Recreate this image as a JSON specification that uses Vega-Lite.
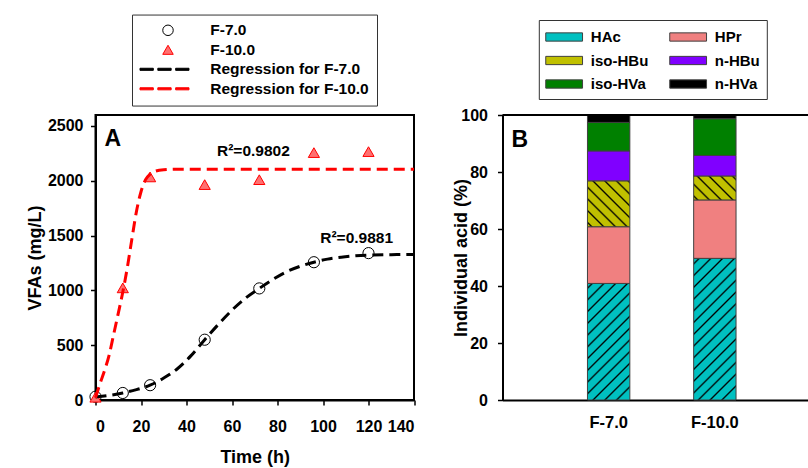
{
  "$schema": "https://vega.github.io/schema/vega-lite/v6.json",
  "autosize": "none",
  "padding": {"left": 95.5, "top": 115, "right": 712.5, "bottom": 353},
  "background": "white",
  "config": {
    "font": "Liberation Sans",
    "view": {"stroke": "black", "strokeWidth": 2},
    "axis": {"grid": false, "domainColor": "black", "domainWidth": 2, "tickColor": "black", "tickWidth": 1.5, "tickSize": 5,
      "labelFont": "Liberation Sans", "labelFontWeight": "bold", "labelFontSize": 16, "labelColor": "black",
      "titleFont": "Liberation Sans", "titleFontWeight": "bold", "titleFontSize": 18, "titleColor": "black"},
    "legend": {"labelFont": "Liberation Sans", "labelFontWeight": "bold", "labelColor": "black", "strokeColor": "#333333", "fillColor": "white"},
    "title": {"font": "Liberation Sans", "fontWeight": "bold", "fontSize": 23, "color": "black", "anchor": "start", "frame": "group", "baseline": "top", "dx": 9, "offset": -11}
  },
  "datasets": {
    "points": [
      {"series": "F-7.0", "t": 0, "v": 30}, {"series": "F-7.0", "t": 12, "v": 64}, {"series": "F-7.0", "t": 24, "v": 135},
      {"series": "F-7.0", "t": 48, "v": 550}, {"series": "F-7.0", "t": 72, "v": 1018}, {"series": "F-7.0", "t": 96, "v": 1257},
      {"series": "F-7.0", "t": 120, "v": 1340},
      {"series": "F-10.0", "t": 0, "v": 25}, {"series": "F-10.0", "t": 12, "v": 1023}, {"series": "F-10.0", "t": 24, "v": 2035},
      {"series": "F-10.0", "t": 48, "v": 1965}, {"series": "F-10.0", "t": 72, "v": 2010}, {"series": "F-10.0", "t": 96, "v": 2257},
      {"series": "F-10.0", "t": 120, "v": 2266}
    ],
    "curves": [
      {"series": "Regression for F-7.0", "t": 0, "v": 28}, {"series": "Regression for F-7.0", "t": 6, "v": 42},
      {"series": "Regression for F-7.0", "t": 12, "v": 64}, {"series": "Regression for F-7.0", "t": 18, "v": 95},
      {"series": "Regression for F-7.0", "t": 24, "v": 135}, {"series": "Regression for F-7.0", "t": 30, "v": 200},
      {"series": "Regression for F-7.0", "t": 36, "v": 285}, {"series": "Regression for F-7.0", "t": 42, "v": 405},
      {"series": "Regression for F-7.0", "t": 48, "v": 550}, {"series": "Regression for F-7.0", "t": 54, "v": 690},
      {"series": "Regression for F-7.0", "t": 60, "v": 820}, {"series": "Regression for F-7.0", "t": 66, "v": 930},
      {"series": "Regression for F-7.0", "t": 72, "v": 1018}, {"series": "Regression for F-7.0", "t": 78, "v": 1100},
      {"series": "Regression for F-7.0", "t": 84, "v": 1170}, {"series": "Regression for F-7.0", "t": 90, "v": 1220},
      {"series": "Regression for F-7.0", "t": 96, "v": 1257}, {"series": "Regression for F-7.0", "t": 102, "v": 1285},
      {"series": "Regression for F-7.0", "t": 108, "v": 1303}, {"series": "Regression for F-7.0", "t": 114, "v": 1315},
      {"series": "Regression for F-7.0", "t": 120, "v": 1322}, {"series": "Regression for F-7.0", "t": 130, "v": 1326},
      {"series": "Regression for F-7.0", "t": 140, "v": 1328},
      {"series": "Regression for F-10.0", "t": 0, "v": 20}, {"series": "Regression for F-10.0", "t": 2, "v": 150},
      {"series": "Regression for F-10.0", "t": 4, "v": 270}, {"series": "Regression for F-10.0", "t": 6, "v": 410},
      {"series": "Regression for F-10.0", "t": 8, "v": 600}, {"series": "Regression for F-10.0", "t": 10, "v": 790},
      {"series": "Regression for F-10.0", "t": 12, "v": 985}, {"series": "Regression for F-10.0", "t": 14, "v": 1210},
      {"series": "Regression for F-10.0", "t": 16, "v": 1470}, {"series": "Regression for F-10.0", "t": 18, "v": 1720},
      {"series": "Regression for F-10.0", "t": 20, "v": 1900}, {"series": "Regression for F-10.0", "t": 22, "v": 2010},
      {"series": "Regression for F-10.0", "t": 24, "v": 2060}, {"series": "Regression for F-10.0", "t": 26, "v": 2085},
      {"series": "Regression for F-10.0", "t": 30, "v": 2100}, {"series": "Regression for F-10.0", "t": 36, "v": 2105},
      {"series": "Regression for F-10.0", "t": 140, "v": 2105}
    ],
    "notes": [
      {"t": 69.4, "v": 2276, "label": "R²=0.9802"},
      {"t": 114.8, "v": 1482, "label": "R²=0.9881"}
    ],
    "acids": [
      {"sample": "F-7.0", "acid": "HAc", "idx": 1, "pct": 40.9},
      {"sample": "F-7.0", "acid": "HPr", "idx": 2, "pct": 19.9},
      {"sample": "F-7.0", "acid": "iso-HBu", "idx": 3, "pct": 16.1},
      {"sample": "F-7.0", "acid": "n-HBu", "idx": 4, "pct": 10.5},
      {"sample": "F-7.0", "acid": "iso-HVa", "idx": 5, "pct": 10.0},
      {"sample": "F-7.0", "acid": "n-HVa", "idx": 6, "pct": 2.6},
      {"sample": "F-10.0", "acid": "HAc", "idx": 1, "pct": 49.7},
      {"sample": "F-10.0", "acid": "HPr", "idx": 2, "pct": 20.5},
      {"sample": "F-10.0", "acid": "iso-HBu", "idx": 3, "pct": 8.4},
      {"sample": "F-10.0", "acid": "n-HBu", "idx": 4, "pct": 7.2},
      {"sample": "F-10.0", "acid": "iso-HVa", "idx": 5, "pct": 12.9},
      {"sample": "F-10.0", "acid": "n-HVa", "idx": 6, "pct": 1.3}
    ]
  },
  "spacing": 88,
  "bounds": "flush",
  "resolve": {
    "scale": {"fill": "independent", "stroke": "independent", "shape": "independent", "color": "independent"},
    "legend": {"fill": "independent", "stroke": "independent", "shape": "independent", "color": "independent"}
  },
  "hconcat": [
    {
      "width": 318.5,
      "height": 285,
      "title": {"text": "A", "dy": 126},
      "layer": [
        {
          "data": {"name": "points"},
          "mark": {"type": "point", "filled": true, "size": 125, "strokeWidth": 1, "opacity": 1},
          "encoding": {
            "x": {"field": "t", "type": "quantitative", "scale": {"domain": [0, 140]},
              "axis": {"title": "Time (h)", "values": [0, 20, 40, 60, 80, 100, 120, 140], "format": "d", "labelPadding": 13, "titlePadding": 14}},
            "y": {"field": "v", "type": "quantitative", "scale": {"domain": [0, 2500]},
              "axis": {"title": "VFAs (mg/L)", "values": [0, 500, 1000, 1500, 2000, 2500], "format": "d", "labelPadding": 7.5, "titlePadding": 3}},
            "shape": {"field": "series", "type": "nominal",
              "scale": {"domain": ["F-7.0", "F-10.0", "Regression for F-7.0", "Regression for F-10.0"],
                "range": ["circle", "triangle-up",
                  "M-5.34,-0.2H-2.8V0.2H-5.34ZM-1.94,-0.2H0.6V0.2H-1.94ZM1.46,-0.2H4V0.2H1.46Z",
                  "M-5.34,-0.2H-2.8V0.2H-5.34ZM-1.94,-0.2H0.6V0.2H-1.94ZM1.46,-0.2H4V0.2H1.46Z"]},
              "legend": {"title": null, "orient": "none", "legendX": 36.5, "legendY": -100.45, "direction": "vertical",
                "symbolSize": 110, "symbolStrokeWidth": 1, "symbolOffset": 20.25, "labelOffset": 34.5, "rowPadding": 2.5,
                "padding": 8, "labelFontSize": 15.5, "labelLimit": 300}},
            "fill": {"field": "series", "type": "nominal",
              "scale": {"domain": ["F-7.0", "F-10.0", "Regression for F-7.0", "Regression for F-10.0"],
                "range": ["transparent", "#ff7070", "black", "#ff0000"]},
              "legend": {"title": null, "orient": "none", "legendX": 36.5, "legendY": -100.45, "direction": "vertical",
                "symbolSize": 110, "symbolStrokeWidth": 1, "symbolOffset": 20.25, "labelOffset": 34.5, "rowPadding": 2.5,
                "padding": 8, "labelFontSize": 15.5, "labelLimit": 300}},
            "stroke": {"field": "series", "type": "nominal",
              "scale": {"domain": ["F-7.0", "F-10.0", "Regression for F-7.0", "Regression for F-10.0"],
                "range": ["black", "#ff0000", "black", "#ff0000"]},
              "legend": {"title": null, "orient": "none", "legendX": 36.5, "legendY": -100.45, "direction": "vertical",
                "symbolSize": 110, "symbolStrokeWidth": 1, "symbolOffset": 20.25, "labelOffset": 34.5, "rowPadding": 2.5,
                "padding": 8, "labelFontSize": 15.5, "labelLimit": 300}}
          }
        },
        {
          "data": {"name": "curves"},
          "mark": {"type": "line", "strokeWidth": 3, "strokeDash": [11, 6], "interpolate": "monotone"},
          "encoding": {
            "x": {"field": "t", "type": "quantitative"},
            "y": {"field": "v", "type": "quantitative"},
            "color": {"field": "series", "type": "nominal",
              "scale": {"domain": ["Regression for F-7.0", "Regression for F-10.0"], "range": ["black", "#ff0000"]},
              "legend": null}
          }
        },
        {
          "data": {"name": "notes"},
          "mark": {"type": "text", "fontSize": 15.5, "fontWeight": "bold", "font": "Liberation Sans", "color": "black", "align": "center", "baseline": "middle"},
          "encoding": {
            "x": {"field": "t", "type": "quantitative"},
            "y": {"field": "v", "type": "quantitative"},
            "text": {"field": "label", "type": "nominal"}
          }
        }
      ]
    },
    {
      "width": 306.5,
      "height": 285,
      "view": {"stroke": null},
      "title": {"text": "B", "dy": 121},
      "layer": [
        {
          "data": {"name": "acids"},
          "mark": {"type": "bar", "stroke": "#404040", "strokeWidth": 1},
          "encoding": {
            "x": {"field": "sample", "type": "nominal", "sort": ["F-7.0", "F-10.0"],
              "scale": {"range": [0, 318.5], "paddingInner": 0.601, "paddingOuter": 0.8},
              "axis": {"title": null, "labelAngle": 0, "ticks": false, "tickSize": 0, "labelPadding": 14, "labelFontSize": 16.5}},
            "y": {"field": "pct", "type": "quantitative", "stack": "zero", "scale": {"domain": [0, 100]},
              "axis": {"title": "Individual acid (%)", "values": [0, 20, 40, 60, 80, 100], "labelPadding": 10, "titlePadding": -9.5}},
            "fill": {
              "condition": [
                {"test": "datum.acid === 'HAc' && datum.sample === 'F-7.0'", "value": {"gradient": "linear", "x1": 0, "y1": 0, "x2": 0.437, "y2": 1.204, "stops": [
                  {"offset": 0, "color": "#00c0c0"},
                  {"offset": 0.0184, "color": "#00c0c0"}, {"offset": 0.03, "color": "#000000"}, {"offset": 0.0416, "color": "#00c0c0"},
                  {"offset": 0.0923, "color": "#00c0c0"}, {"offset": 0.1039, "color": "#000000"}, {"offset": 0.1155, "color": "#00c0c0"},
                  {"offset": 0.1662, "color": "#00c0c0"}, {"offset": 0.1778, "color": "#000000"}, {"offset": 0.1894, "color": "#00c0c0"},
                  {"offset": 0.2401, "color": "#00c0c0"}, {"offset": 0.2517, "color": "#000000"}, {"offset": 0.2633, "color": "#00c0c0"},
                  {"offset": 0.314, "color": "#00c0c0"}, {"offset": 0.3256, "color": "#000000"}, {"offset": 0.3372, "color": "#00c0c0"},
                  {"offset": 0.3879, "color": "#00c0c0"}, {"offset": 0.3995, "color": "#000000"}, {"offset": 0.4111, "color": "#00c0c0"},
                  {"offset": 0.4618, "color": "#00c0c0"}, {"offset": 0.4734, "color": "#000000"}, {"offset": 0.485, "color": "#00c0c0"},
                  {"offset": 0.5357, "color": "#00c0c0"}, {"offset": 0.5473, "color": "#000000"}, {"offset": 0.5589, "color": "#00c0c0"},
                  {"offset": 0.6096, "color": "#00c0c0"}, {"offset": 0.6212, "color": "#000000"}, {"offset": 0.6328, "color": "#00c0c0"},
                  {"offset": 0.6835, "color": "#00c0c0"}, {"offset": 0.6951, "color": "#000000"}, {"offset": 0.7067, "color": "#00c0c0"},
                  {"offset": 0.7574, "color": "#00c0c0"}, {"offset": 0.769, "color": "#000000"}, {"offset": 0.7806, "color": "#00c0c0"},
                  {"offset": 0.8313, "color": "#00c0c0"}, {"offset": 0.8429, "color": "#000000"}, {"offset": 0.8545, "color": "#00c0c0"},
                  {"offset": 0.9052, "color": "#00c0c0"}, {"offset": 0.9168, "color": "#000000"}, {"offset": 0.9284, "color": "#00c0c0"},
                  {"offset": 1, "color": "#00c0c0"}]}},
                {"test": "datum.acid === 'HAc' && datum.sample === 'F-10.0'", "value": {"gradient": "linear", "x1": 0, "y1": 0, "x2": 0.356, "y2": 1.192, "stops": [
                  {"offset": 0, "color": "#00c0c0"},
                  {"offset": 0.02, "color": "#00c0c0"}, {"offset": 0.03, "color": "#000000"}, {"offset": 0.04, "color": "#00c0c0"},
                  {"offset": 0.0838, "color": "#00c0c0"}, {"offset": 0.0938, "color": "#000000"}, {"offset": 0.1038, "color": "#00c0c0"},
                  {"offset": 0.1476, "color": "#00c0c0"}, {"offset": 0.1576, "color": "#000000"}, {"offset": 0.1676, "color": "#00c0c0"},
                  {"offset": 0.2114, "color": "#00c0c0"}, {"offset": 0.2214, "color": "#000000"}, {"offset": 0.2314, "color": "#00c0c0"},
                  {"offset": 0.2752, "color": "#00c0c0"}, {"offset": 0.2852, "color": "#000000"}, {"offset": 0.2952, "color": "#00c0c0"},
                  {"offset": 0.339, "color": "#00c0c0"}, {"offset": 0.349, "color": "#000000"}, {"offset": 0.359, "color": "#00c0c0"},
                  {"offset": 0.4028, "color": "#00c0c0"}, {"offset": 0.4128, "color": "#000000"}, {"offset": 0.4228, "color": "#00c0c0"},
                  {"offset": 0.4666, "color": "#00c0c0"}, {"offset": 0.4766, "color": "#000000"}, {"offset": 0.4866, "color": "#00c0c0"},
                  {"offset": 0.5304, "color": "#00c0c0"}, {"offset": 0.5404, "color": "#000000"}, {"offset": 0.5504, "color": "#00c0c0"},
                  {"offset": 0.5942, "color": "#00c0c0"}, {"offset": 0.6042, "color": "#000000"}, {"offset": 0.6142, "color": "#00c0c0"},
                  {"offset": 0.658, "color": "#00c0c0"}, {"offset": 0.668, "color": "#000000"}, {"offset": 0.678, "color": "#00c0c0"},
                  {"offset": 0.7218, "color": "#00c0c0"}, {"offset": 0.7318, "color": "#000000"}, {"offset": 0.7418, "color": "#00c0c0"},
                  {"offset": 0.7856, "color": "#00c0c0"}, {"offset": 0.7956, "color": "#000000"}, {"offset": 0.8056, "color": "#00c0c0"},
                  {"offset": 0.8494, "color": "#00c0c0"}, {"offset": 0.8594, "color": "#000000"}, {"offset": 0.8694, "color": "#00c0c0"},
                  {"offset": 0.9132, "color": "#00c0c0"}, {"offset": 0.9232, "color": "#000000"}, {"offset": 0.9332, "color": "#00c0c0"},
                  {"offset": 1, "color": "#00c0c0"}]}},
                {"test": "datum.acid === 'iso-HBu' && datum.sample === 'F-7.0'", "value": {"gradient": "linear", "x1": 0, "y1": 1, "x2": 0.958, "y2": -0.039, "stops": [
                  {"offset": 0, "color": "#c0c000"},
                  {"offset": 0.0291, "color": "#c0c000"}, {"offset": 0.05, "color": "#000000"}, {"offset": 0.0709, "color": "#c0c000"},
                  {"offset": 0.1621, "color": "#c0c000"}, {"offset": 0.183, "color": "#000000"}, {"offset": 0.2039, "color": "#c0c000"},
                  {"offset": 0.2951, "color": "#c0c000"}, {"offset": 0.316, "color": "#000000"}, {"offset": 0.3369, "color": "#c0c000"},
                  {"offset": 0.4281, "color": "#c0c000"}, {"offset": 0.449, "color": "#000000"}, {"offset": 0.4699, "color": "#c0c000"},
                  {"offset": 0.5611, "color": "#c0c000"}, {"offset": 0.582, "color": "#000000"}, {"offset": 0.6029, "color": "#c0c000"},
                  {"offset": 0.6941, "color": "#c0c000"}, {"offset": 0.715, "color": "#000000"}, {"offset": 0.7359, "color": "#c0c000"},
                  {"offset": 0.8271, "color": "#c0c000"}, {"offset": 0.848, "color": "#000000"}, {"offset": 0.8689, "color": "#c0c000"},
                  {"offset": 0.9601, "color": "#c0c000"}, {"offset": 0.981, "color": "#000000"}, {"offset": 1, "color": "#c0c000"}]}},
                {"test": "datum.acid === 'iso-HBu' && datum.sample === 'F-10.0'", "value": {"gradient": "linear", "x1": 0, "y1": 1, "x2": 1.187, "y2": 0.33, "stops": [
                  {"offset": 0, "color": "#c0c000"},
                  {"offset": 0.0322, "color": "#c0c000"}, {"offset": 0.06, "color": "#000000"}, {"offset": 0.0878, "color": "#c0c000"},
                  {"offset": 0.2092, "color": "#c0c000"}, {"offset": 0.237, "color": "#000000"}, {"offset": 0.2648, "color": "#c0c000"},
                  {"offset": 0.3862, "color": "#c0c000"}, {"offset": 0.414, "color": "#000000"}, {"offset": 0.4418, "color": "#c0c000"},
                  {"offset": 0.5632, "color": "#c0c000"}, {"offset": 0.591, "color": "#000000"}, {"offset": 0.6188, "color": "#c0c000"},
                  {"offset": 0.7402, "color": "#c0c000"}, {"offset": 0.768, "color": "#000000"}, {"offset": 0.7958, "color": "#c0c000"},
                  {"offset": 0.9172, "color": "#c0c000"}, {"offset": 0.945, "color": "#000000"}, {"offset": 0.9728, "color": "#c0c000"},
                  {"offset": 1, "color": "#c0c000"}]}}
              ],
              "field": "acid", "type": "nominal",
              "scale": {"domain": ["HAc", "HPr", "iso-HBu", "n-HBu", "iso-HVa", "n-HVa"],
                "range": ["#00c0c0", "#f08080", "#c0c000", "#8000ff", "#008000", "#000000"]},
              "legend": {"title": null, "orient": "none", "legendX": 36.3, "legendY": -95, "columns": 2, "direction": "horizontal",
                "symbolType": "M-2,-0.45H2V0.45H-2Z", "symbolSize": 338, "symbolStrokeColor": "#404040", "symbolStrokeWidth": 1,
                "symbolOffset": 8.35, "labelOffset": 16.65, "rowPadding": 5.5, "columnPadding": 18, "padding": 7,
                "labelFontSize": 15, "labelLimit": 200}
            },
            "order": {"field": "idx", "type": "quantitative"}
          }
        },
        {
          "data": {"values": [{}]},
          "mark": {"type": "rule", "strokeWidth": 2, "color": "black"},
          "encoding": {"y": {"datum": 100}}
        }
      ]
    }
  ]
}
